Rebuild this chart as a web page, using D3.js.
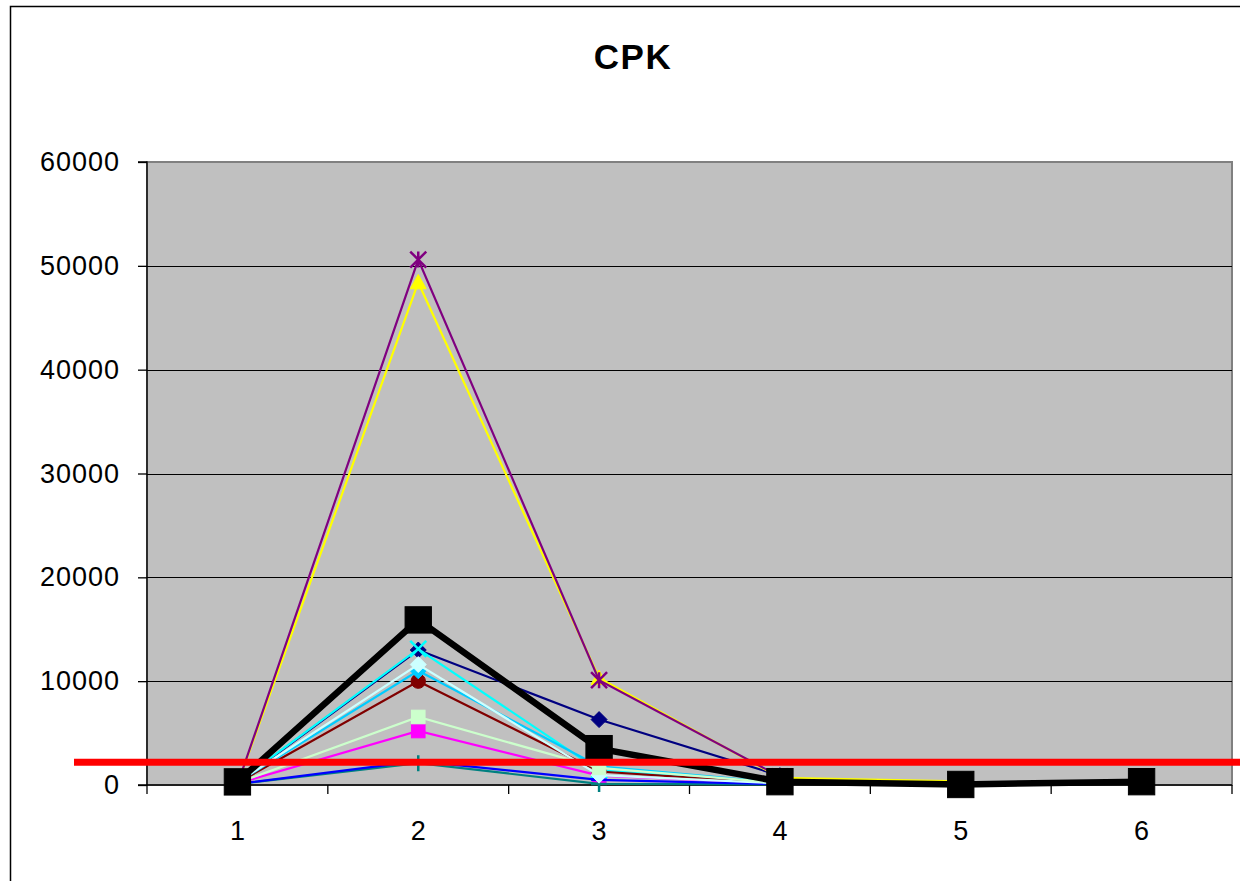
<!DOCTYPE html>
<html>
<head>
<meta charset="utf-8">
<script src="https://cdn.jsdelivr.net/npm/d3@7/dist/d3.min.js"></script>
<style>
  html, body { margin: 0; padding: 0; background: #fff; }
  svg { display: block; }
  text { font-family: "Liberation Sans", Arial, sans-serif; }
</style>
</head>
<body>
<svg id="chart" width="1240" height="881"></svg>
<script>
// ---------- data ----------
const categories = ["1", "2", "3", "4", "5", "6"];
const yTicks = [0, 10000, 20000, 30000, 40000, 50000, 60000];
const title = "CPK";
const limitValue = 2200;

const seriesNames  = ["S1", "S2", "S3", "S4", "S5", "S6", "S7", "S8", "S9", "S10", "S11", "CPK"];
const seriesColors = ["#000080", "#FF00FF", "#FFFF00", "#00FFFF", "#800080", "#800000", "#008080", "#0000FF", "#00CCFF", "#CCFFFF", "#CCFFCC", "#000000"];
const seriesMarkers = ["diamond", "square", "triangle", "x", "star", "circle", "plus", "dash", "diamond", "diamond", "square", "square"];

const s1  = [200, 13000, 6300, 900];
const s2  = [150, 5200, 900, 150];
const s3  = [50, 48400, 10300, 700, 350];
const s4  = [250, 13100, 1400, 200];
const s5  = [30, 50600, 10100, 800];
const s6  = [200, 10000, 1300, 150];
const s7  = [100, 2100, 100, 50];
const s8  = [100, 2300, 500, 80];
const s9  = [250, 11000, 1800, 200];
const s10 = [250, 11600, 950, 150];
const s11 = [200, 6550, 1650, 200];
const sMean = [300, 15900, 3500, 320, 50, 320];

const seriesValues = [s1, s2, s3, s4, s5, s6, s7, s8, s9, s10, s11, sMean];

// ---------- layout ----------
const svg = d3.select("#chart");
const plot = { left: 147, top: 162, right: 1232, bottom: 785 };

// outer chart border
svg.append("rect")
  .attr("x", 10.5).attr("y", 6.5)
  .attr("width", 1260).attr("height", 900)
  .attr("fill", "#fff").attr("stroke", "#000").attr("stroke-width", 1.5);

const x = d3.scaleBand().domain(categories).range([plot.left, plot.right]).padding(0);
const y = d3.scaleLinear().domain([0, 60000]).range([plot.bottom, plot.top]);
const cx = c => x(c) + x.bandwidth() / 2;

// plot area
svg.append("rect")
  .attr("x", plot.left).attr("y", plot.top)
  .attr("width", plot.right - plot.left).attr("height", plot.bottom - plot.top)
  .attr("fill", "#C0C0C0").attr("stroke", "#808080").attr("stroke-width", 2);

// gridlines
svg.append("g").selectAll("line")
  .data(yTicks.filter(v => v > 0 && v < 60000))
  .join("line")
  .attr("x1", plot.left).attr("x2", plot.right)
  .attr("y1", d => Math.round(y(d)) + 0.5).attr("y2", d => Math.round(y(d)) + 0.5)
  .attr("stroke", "#000").attr("stroke-width", 1);

// y axis
const yAxis = svg.append("g")
  .attr("transform", `translate(${plot.left},0)`)
  .call(d3.axisLeft(y).tickValues(yTicks).tickSize(9).tickPadding(18).tickFormat(d3.format("d")));
yAxis.selectAll("path, line").attr("stroke", "#000").attr("stroke-width", 1.3);
yAxis.selectAll("text")
  .attr("font-size", 27).attr("fill", "#000")
  .style("letter-spacing", "1px")
  .attr("font-family", "'Liberation Sans', Arial, sans-serif");
yAxis.select(".domain").attr("d", `M-9,${plot.top}H0V${plot.bottom}`);

// x axis
const xAxisG = svg.append("g").attr("transform", `translate(0,${plot.bottom})`);
xAxisG.append("line")
  .attr("x1", plot.left - 9).attr("x2", plot.right)
  .attr("y1", 0).attr("y2", 0)
  .attr("stroke", "#000").attr("stroke-width", 1.3);
const boundaries = categories.map(c => x(c)).concat([plot.right]);
xAxisG.selectAll("line.tick")
  .data(boundaries)
  .join("line").attr("class", "tick")
  .attr("x1", d => d).attr("x2", d => d)
  .attr("y1", 0).attr("y2", 9)
  .attr("stroke", "#000").attr("stroke-width", 1.3);
xAxisG.selectAll("text")
  .data(categories)
  .join("text")
  .attr("x", d => cx(d))
  .attr("y", 55)
  .attr("text-anchor", "middle")
  .attr("font-size", 27)
  .attr("fill", "#000")
  .text(d => d);

// title
svg.append("text")
  .attr("x", 633).attr("y", 69)
  .attr("text-anchor", "middle")
  .attr("font-size", 35).attr("font-weight", "bold")
  .style("letter-spacing", "1.5px")
  .text(title);

// ---------- series ----------
const line = d3.line().x((d, i) => cx(categories[i])).y(d => y(d));

function drawMarker(g, type, px, py, color, size) {
  const s = size / 2;
  if (type === "diamond") {
    g.append("path").attr("d", `M${px},${py - s}L${px + s},${py}L${px},${py + s}L${px - s},${py}Z`)
      .attr("fill", color).attr("stroke", color).attr("stroke-width", 1);
  } else if (type === "square") {
    const q = s * 0.85;
    g.append("rect").attr("x", px - q).attr("y", py - q).attr("width", 2 * q).attr("height", 2 * q)
      .attr("fill", color).attr("stroke", color).attr("stroke-width", 1);
  } else if (type === "triangle") {
    g.append("path").attr("d", `M${px},${py - s}L${px + s},${py + s * 0.8}L${px - s},${py + s * 0.8}Z`)
      .attr("fill", color).attr("stroke", color).attr("stroke-width", 1);
  } else if (type === "x") {
    g.append("path").attr("d", `M${px - s},${py - s}L${px + s},${py + s}M${px - s},${py + s}L${px + s},${py - s}`)
      .attr("stroke", color).attr("stroke-width", 2.5);
  } else if (type === "star") {
    g.append("path").attr("d", `M${px - s},${py - s}L${px + s},${py + s}M${px - s},${py + s}L${px + s},${py - s}M${px},${py - s}L${px},${py + s}`)
      .attr("stroke", color).attr("stroke-width", 2.5);
  } else if (type === "circle") {
    g.append("circle").attr("cx", px).attr("cy", py).attr("r", s * 0.9)
      .attr("fill", color).attr("stroke", color);
  } else if (type === "plus") {
    g.append("path").attr("d", `M${px - s},${py}L${px + s},${py}M${px},${py - s}L${px},${py + s}`)
      .attr("stroke", color).attr("stroke-width", 2.5);
  } else if (type === "dash") {
    g.append("path").attr("d", `M${px - s},${py}L${px + s},${py}`)
      .attr("stroke", color).attr("stroke-width", 2.5);
  }
}

const seriesG = svg.append("g");
seriesValues.forEach((vals, si) => {
  const g = seriesG.append("g").attr("class", "series").attr("data-name", seriesNames[si]);
  const isMean = si === seriesValues.length - 1;
  g.append("path")
    .attr("d", line(vals))
    .attr("fill", "none")
    .attr("stroke", seriesColors[si])
    .attr("stroke-width", isMean ? 6.5 : 2.2)
    .attr("stroke-linejoin", "miter");
  vals.forEach((v, i) => {
    drawMarker(g, seriesMarkers[si], cx(categories[i]), y(v), seriesColors[si], isMean ? 31 : 16);
  });
});

// red limit line (drawn on top)
svg.append("line")
  .attr("x1", 74).attr("x2", 1240)
  .attr("y1", y(limitValue)).attr("y2", y(limitValue))
  .attr("stroke", "#FF0000").attr("stroke-width", 7);
</script>
</body>
</html>
